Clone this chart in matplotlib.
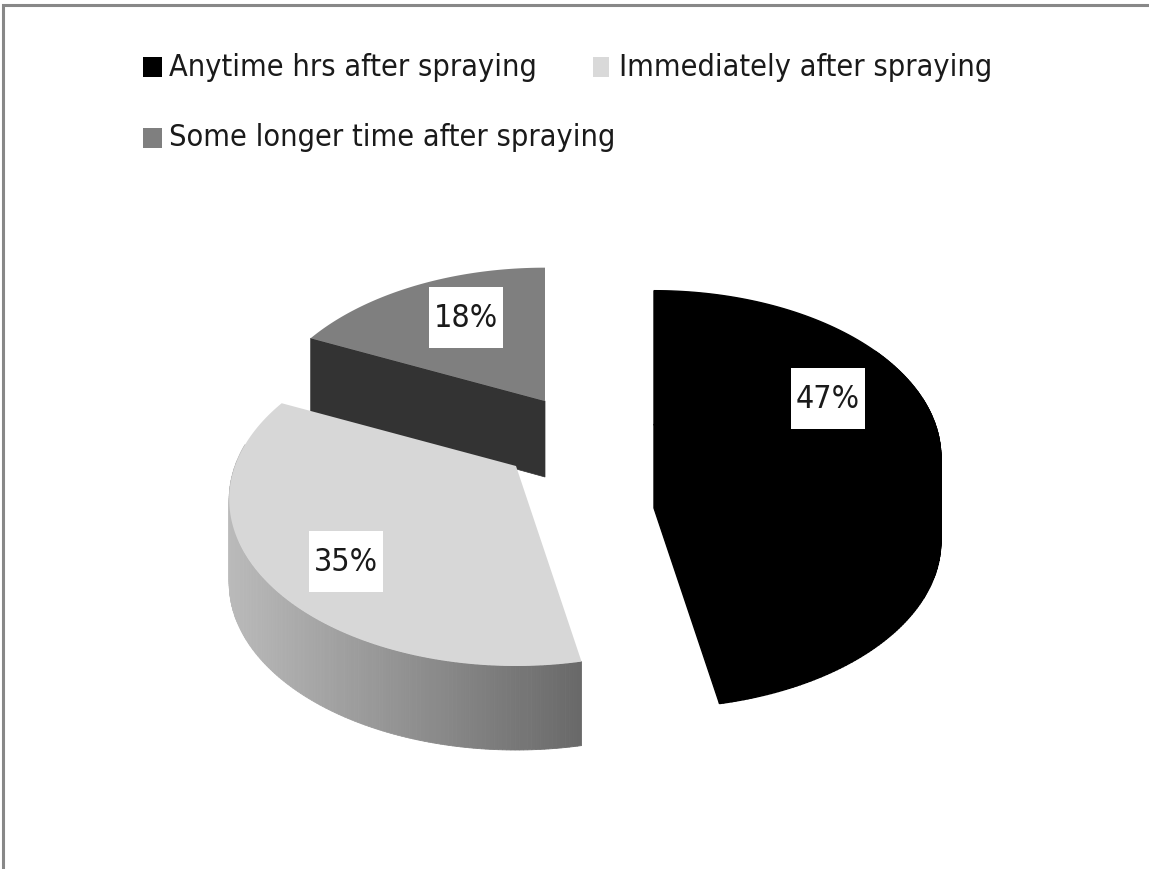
import numpy as np
import matplotlib
matplotlib.use("Agg")
import matplotlib.pyplot as plt
from matplotlib import font_manager
from matplotlib.patches import Polygon, Rectangle

# ---- data ----
categories = ["Anytime hrs after spraying", "Immediately after spraying",
              "Some longer time after spraying"]
shares = [47, 35, 18]
top_colors = ["#000000", "#d7d7d7", "#7f7f7f"]
legend_colors = ["#000000", "#d9d9d9", "#7f7f7f"]


# pick a narrow sans face if one is installed, otherwise Lato
def narrow_font():
    for f in font_manager.fontManager.ttflist:
        if ("Sans" in f.name and f.style == "normal" and f.weight in (400, "normal")
                and (f.stretch in ("condensed", "semi-condensed")
                     or "Narrow" in f.name or "Condensed" in f.name)):
            return dict(family=[f.name, "DejaVu Sans"], stretch=f.stretch)
    return dict(family=["Lato", "DejaVu Sans"])


FONT = narrow_font()

# ---- geometry of the tilted pie (pixel space, y grows downwards) ----
RX, RY = 281.0, 160.0     # ellipse radii of the top face
K = 0.20                  # perspective strength (far side shrinks)
DEPTH = 84.0              # thickness of the pie
# apex (slice corner) of each exploded slice
apex = [(654, 424), (516, 466), (545, 401)]


def proj(theta_deg, r, ax0, ay0):
    t = np.radians(theta_deg)
    u, v = r * np.cos(t), r * np.sin(t)
    s = 1.0 / (1.0 + K * v)
    return ax0 + RX * u * s, ay0 - RY * v * s


def arc(t1, t2, ax0, ay0, n=120):
    ts = np.linspace(t1, t2, n)
    return np.array([proj(t, 1.0, ax0, ay0) for t in ts])


def wall_quads(t1, t2, a, n=160):
    # outer rim split into thin vertical strips
    pts = arc(t1, t2, *a, n=n)
    quads = [np.array([pts[i], pts[i + 1], pts[i + 1] + [0, DEPTH],
                       pts[i] + [0, DEPTH]]) for i in range(n - 1)]
    return pts, quads


def cut_face(theta, a, d_outer, d_inner):
    p = np.array(proj(theta, 1.0, *a))
    c = np.array(a, dtype=float)
    return np.array([c, p, p + [0, d_outer], c + [0, d_inner]])


# slice angle ranges: start at 12 o'clock, go clockwise
bounds = []
start = 90.0
for v in shares:
    sweep = 360.0 * v / sum(shares)
    bounds.append((start - sweep, start))
    start -= sweep

fig = plt.figure(figsize=(11.49, 8.69), dpi=100)
ax = fig.add_axes([0, 0, 1, 1])
ax.set_xlim(0, 1149)
ax.set_ylim(869, 0)
ax.axis("off")

# outer frame (only top and left edges fall inside the image)
ax.plot([3, 3, 1149], [869, 5, 5], color="#888888", lw=2.2,
        solid_joinstyle="miter", zorder=1)

# --- back slice: "Some longer time" ---
lo, hi = bounds[2]
a = apex[2]
ax.add_patch(Polygon(cut_face(hi + 360, a, 74, 76), closed=True,
                     fc="#333333", ec="#333333", lw=0.5, zorder=2))
top = np.vstack([[a], arc(lo + 360, hi + 360, *a)])
ax.add_patch(Polygon(top, closed=True, fc=top_colors[2], ec="none", zorder=3))

# --- middle slice: "Immediately after spraying" (shaded outer wall) ---
lo, hi = bounds[1]
a = apex[1]
pts, quads = wall_quads(172.0, hi + 360.0, a)
xmin, xmax = pts[:, 0].min(), pts[:, 0].max()
c_left = np.array([0.73, 0.73, 0.73])
c_right = np.array([0.41, 0.41, 0.41])
for q in quads:
    f = (q[:2, 0].mean() - xmin) / (xmax - xmin)
    col = c_left + (c_right - c_left) * f
    ax.add_patch(Polygon(q, closed=True, fc=col, ec=col, lw=0.6, zorder=4))
top = np.vstack([[a], arc(lo + 360, hi + 360, *a)])
ax.add_patch(Polygon(top, closed=True, fc=top_colors[1], ec="none", zorder=5))

# --- front-right slice: "Anytime hrs after spraying" (all black) ---
lo, hi = bounds[0]
a = apex[0]
black = dict(closed=True, fc="#000000", ec="#000000", lw=1.0, zorder=6)
ax.add_patch(Polygon(cut_face(lo, a, DEPTH, DEPTH), **black))
for q in wall_quads(lo, 30, a)[1]:
    ax.add_patch(Polygon(q, **black))
top = np.vstack([[a], arc(lo, hi, *a)])
ax.add_patch(Polygon(top, **black))

# --- percentage labels in white boxes ---
label_r = 0.65
nudges = [(-6, -16), (-13, 26), (9, -4)]
box_w, box_h = 74, 61
for i, (lo, hi) in enumerate(bounds):
    mid = (lo + hi) / 2
    x, y = proj(mid, label_r, *apex[i])
    x += nudges[i][0]
    y += nudges[i][1]
    ax.add_patch(Rectangle((x - box_w / 2, y - box_h / 2), box_w, box_h,
                           fc="white", ec="none", zorder=9))
    ax.text(x, y + 1, f"{shares[i]}%", ha="center", va="center",
            fontsize=23, color="#1a1a1a", zorder=10, **FONT)

# --- legend ---
legend_pos = [(143, 67), (593, 67), (143, 138)]
for (lx, ly), name, col in zip(legend_pos, categories, legend_colors):
    ax.add_patch(Rectangle((lx, ly - 10), 19 if col != "#d9d9d9" else 16, 20,
                           fc=col, ec="none", zorder=10))
    ax.text(lx + 26, ly, name, ha="left", va="center",
            fontsize=22, color="#1a1a1a", zorder=10, **FONT)

fig.savefig("out.png", dpi=100, facecolor="white")
